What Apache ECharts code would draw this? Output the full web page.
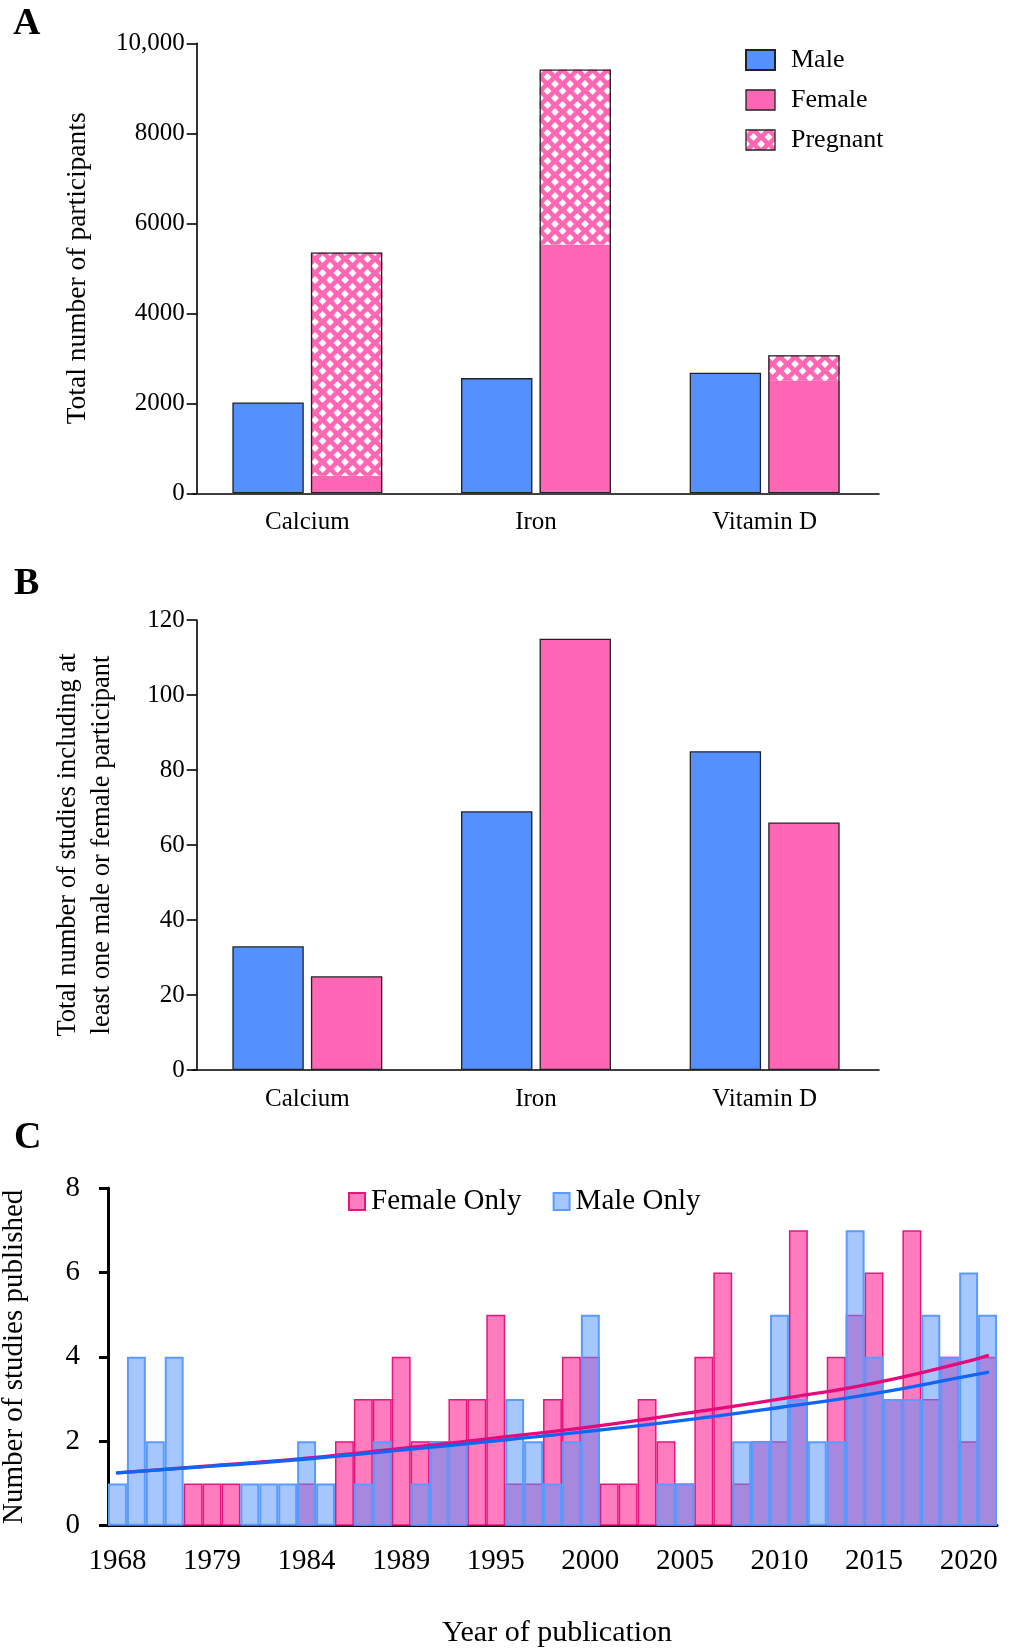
<!DOCTYPE html>
<html><head><meta charset="utf-8">
<script src="https://cdn.jsdelivr.net/npm/echarts@6/dist/echarts.min.js"></script>
<style>html,body{margin:0;padding:0;background:#fff}#c{width:1011px;height:1650px}</style>
</head><body><div id="c"></div>
<script>
// ---------- Panel A ----------
const nutrients = ['Calcium', 'Iron', 'Vitamin D'];
const participantsMale = [2020, 2560, 2680];
const participantsFemale = [390, 5530, 2500];
const participantsPregnant = [4960, 3890, 570];
// ---------- Panel B ----------
const studiesMale = [33, 69, 85];
const studiesFemale = [25, 115, 66];
// ---------- Panel C ----------
const years = ['1968','1970','1972','1975','1977','1979','1980','1981','1982','1983',
  '1984','1985','1986','1987','1988','1989','1990','1991','1992','1993',
  '1995','1996','1997','1998','1999','2000','2001','2002','2003','2004',
  '2005','2006','2007','2008','2009','2010','2011','2012','2013','2014',
  '2015','2016','2017','2018','2019','2020','2021'];
const femaleOnly = [0,0,0,0,1,1,1,0,0,0, 1,0,2,3,3,4,2,2,3,3, 5,1,1,3,4,4,1,1,3,2, 1,4,6,1,2,2,7,0,4,5, 6,3,7,3,4,2,4];
const maleOnly   = [1,4,2,4,0,0,0,1,1,1, 2,1,0,1,2,0,1,2,2,0, 0,3,2,1,2,5,0,0,0,1, 1,0,0,2,2,5,3,2,2,7, 4,3,3,5,4,6,5];
const trendYears = ['1968','1979','1984','1989','1995','2000','2005','2010','2015','2020','2021'];
const femaleTrend = [1.25,1.42,1.60,1.83,2.08,2.34,2.66,3.00,3.38,3.90,4.03];
const maleTrend   = [1.25,1.41,1.58,1.79,2.01,2.24,2.50,2.80,3.13,3.55,3.63];

const FONT = "'Liberation Serif','Times New Roman',serif";
const BLUE = '#5590FF', PINK = '#FF66B3', EDGE = '#222';

function makePattern() {
  const c = document.createElement('canvas'); c.width = 15; c.height = 14;
  const g = c.getContext('2d');
  g.fillStyle = PINK; g.fillRect(0, 0, 15, 14);
  g.fillStyle = '#fff';
  const d = (x, y, r) => { g.beginPath(); g.moveTo(x, y - r); g.lineTo(x + r, y); g.lineTo(x, y + r); g.lineTo(x - r, y); g.closePath(); g.fill(); };
  [[0,0],[15,0],[0,14],[15,14],[7.5,7]].forEach(p => d(p[0], p[1], 3.9));
  return c;
}
const pattern = { image: makePattern(), repeat: 'repeat' };
const participantsTotal = participantsFemale.map((v, i) => v + participantsPregnant[i]);
const nz = a => a.map(v => (v === 0 ? null : v));

const catAxisAB = (gridIndex, show) => ({
  type: 'category', gridIndex, data: nutrients, show,
  axisLine: { lineStyle: { color: '#000', width: 1.6 } },
  axisTick: { alignWithLabel: true, length: 10, lineStyle: { color: '#000', width: 1.6 } },
  axisLabel: { color: '#000', fontFamily: FONT, fontSize: 25, margin: 17 }
});
const valAxisAB = (gridIndex, max, interval, name, nameGap, fmt, nameSize, lh) => ({
  type: 'value', gridIndex, min: 0, max, interval, offset: -3.7,
  name, nameLocation: 'middle', nameGap,
  nameTextStyle: { color: '#000', fontFamily: FONT, fontSize: nameSize, lineHeight: lh },
  splitLine: { show: false },
  axisLine: { show: true, lineStyle: { color: '#000', width: 1.6 } },
  axisTick: { show: true, length: 10, lineStyle: { color: '#000', width: 1.6 } },
  axisLabel: { color: '#000', fontFamily: FONT, fontSize: 25, margin: 12, formatter: fmt }
});

const chart = echarts.init(document.getElementById('c'), null, { renderer: 'canvas' });
chart.setOption({
  animation: false,
  backgroundColor: '#fff',
  graphic: [
    { type: 'text', x: 13, y: 24, style: { text: 'A', font: 'bold 38px ' + FONT, fill: '#000', textVerticalAlign: 'middle', verticalAlign: 'middle' } },
    { type: 'text', x: 14, y: 584, style: { text: 'B', font: 'bold 38px ' + FONT, fill: '#000', textVerticalAlign: 'middle', verticalAlign: 'middle' } },
    { type: 'text', x: 14, y: 1138, style: { text: 'C', font: 'bold 38px ' + FONT, fill: '#000', textVerticalAlign: 'middle', verticalAlign: 'middle' } }
  ],
  legend: [
    {
      orient: 'vertical', left: 740, top: 42, itemWidth: 29, itemHeight: 20, itemGap: 14,
      icon: 'rect',
      textStyle: { color: '#000', fontFamily: FONT, fontSize: 26, padding: [0, 0, 0, 11] },
      data: [
        { name: 'Male' },
        { name: 'Female', itemStyle: { borderColor: EDGE, borderWidth: 1.3 } },
        { name: 'Pregnant', itemStyle: { borderColor: EDGE, borderWidth: 1.3 } }
      ]
    },
    {
      orient: 'horizontal', left: 343, top: 1182, itemWidth: 16, itemHeight: 17, itemGap: 31,
      icon: 'rect',
      textStyle: { color: '#000', fontFamily: FONT, fontSize: 29, padding: [0, 0, 0, 1] },
      data: ['Female Only', 'Male Only']
    }
  ],
  grid: [
    { left: 193, top: 43.3, width: 686, height: 450, outerBoundsMode: 'none', containLabel: false },
    { left: 193, top: 620, width: 686, height: 450, outerBoundsMode: 'none', containLabel: false },
    { left: 108, top: 1188, width: 889, height: 337.7, outerBoundsMode: 'none', containLabel: false }
  ],
  xAxis: [
    catAxisAB(0, true),
    catAxisAB(1, true),
    {
      type: 'category', gridIndex: 2, data: years, boundaryGap: true,
      name: 'Year of publication', nameLocation: 'middle', nameGap: 92,
      nameTextStyle: { color: '#000', fontFamily: FONT, fontSize: 30, padding: [0, 0, 0, 9] },
      axisLine: { lineStyle: { color: '#000', width: 3 } },
      axisTick: { interval: 4, length: 9, lineStyle: { color: '#000', width: 3 } },
      axisLabel: { interval: 4, color: '#000', fontFamily: FONT, fontSize: 29, margin: 21 }
    },
    { type: 'category', gridIndex: 0, data: nutrients, show: false }
  ],
  yAxis: [
    valAxisAB(0, 10000, 2000, 'Total number of participants', 104, v => (v === 10000 ? '10,000' : String(v)), 27.5, 30),
    valAxisAB(1, 120, 20, 'Total number of studies including at\nleast one male or female participant', 78, v => String(v), 26.5, 34),
    {
      type: 'value', gridIndex: 2, min: 0, max: 8, interval: 2,
      name: 'Number of studies published', nameLocation: 'middle', nameGap: 79,
      nameTextStyle: { color: '#000', fontFamily: FONT, fontSize: 29 },
      splitLine: { show: false },
      axisLine: { show: true, lineStyle: { color: '#000', width: 3 } },
      axisTick: { show: true, length: 9, lineStyle: { color: '#000', width: 3 } },
      axisLabel: { color: '#000', fontFamily: FONT, fontSize: 29, margin: 28 }
    }
  ],
  series: [
    // Panel A
    { name: 'Male', type: 'bar', xAxisIndex: 0, yAxisIndex: 0, data: participantsMale,
      barWidth: 71.4, barGap: '10%',
      itemStyle: { color: BLUE, borderColor: EDGE, borderWidth: 1.3 } },
    { name: 'Female', type: 'bar', stack: 'f', xAxisIndex: 0, yAxisIndex: 0, data: participantsFemale,
      barWidth: 71.4, barGap: '10%', itemStyle: { color: PINK, borderWidth: 0 } },
    { name: 'Pregnant', type: 'bar', stack: 'f', xAxisIndex: 0, yAxisIndex: 0, data: participantsPregnant,
      barWidth: 71.4, barGap: '10%', itemStyle: { color: pattern, borderWidth: 0 } },
    // outline overlay for the stacked female bars
    { name: '_ghost', type: 'bar', xAxisIndex: 3, yAxisIndex: 0, data: participantsMale, silent: true,
      barWidth: 71.4, barGap: '10%', itemStyle: { color: 'rgba(0,0,0,0)', borderWidth: 0 } },
    { name: '_outline', type: 'bar', xAxisIndex: 3, yAxisIndex: 0, data: participantsTotal, silent: true,
      barWidth: 71.4, barGap: '10%', z: 5,
      itemStyle: { color: 'rgba(0,0,0,0)', borderColor: EDGE, borderWidth: 1.3 } },
    // Panel B
    { name: 'Male studies', type: 'bar', xAxisIndex: 1, yAxisIndex: 1, data: studiesMale,
      barWidth: 71.4, barGap: '10%', itemStyle: { color: BLUE, borderColor: EDGE, borderWidth: 1.3 } },
    { name: 'Female studies', type: 'bar', xAxisIndex: 1, yAxisIndex: 1, data: studiesFemale,
      barWidth: 71.4, barGap: '10%', itemStyle: { color: PINK, borderColor: EDGE, borderWidth: 1.3 } },
    // Panel C
    { name: 'Female Only', type: 'bar', xAxisIndex: 2, yAxisIndex: 2, data: nz(femaleOnly),
      barWidth: '100%', barGap: '-100%', barCategoryGap: '0%',
      itemStyle: { color: '#FF7DBE', borderColor: '#E8157D', borderWidth: 1.5 } },
    { name: 'Male Only', type: 'bar', xAxisIndex: 2, yAxisIndex: 2, data: nz(maleOnly),
      barWidth: '100%', barGap: '-100%', barCategoryGap: '0%',
      itemStyle: { color: 'rgba(85,146,253,0.52)', borderColor: '#5B9BFF', borderWidth: 2 } },
    { name: 'Female trend', type: 'line', xAxisIndex: 2, yAxisIndex: 2, smooth: true, symbol: 'none', z: 6,
      data: trendYears.map((y, i) => [y, femaleTrend[i]]),
      lineStyle: { color: '#E6097A', width: 3.3, cap: 'round' } },
    { name: 'Male trend', type: 'line', xAxisIndex: 2, yAxisIndex: 2, smooth: true, symbol: 'none', z: 7,
      data: trendYears.map((y, i) => [y, maleTrend[i]]),
      lineStyle: { color: '#0F66F5', width: 3.3, cap: 'round' } }
  ]
});
</script>
</body></html>
